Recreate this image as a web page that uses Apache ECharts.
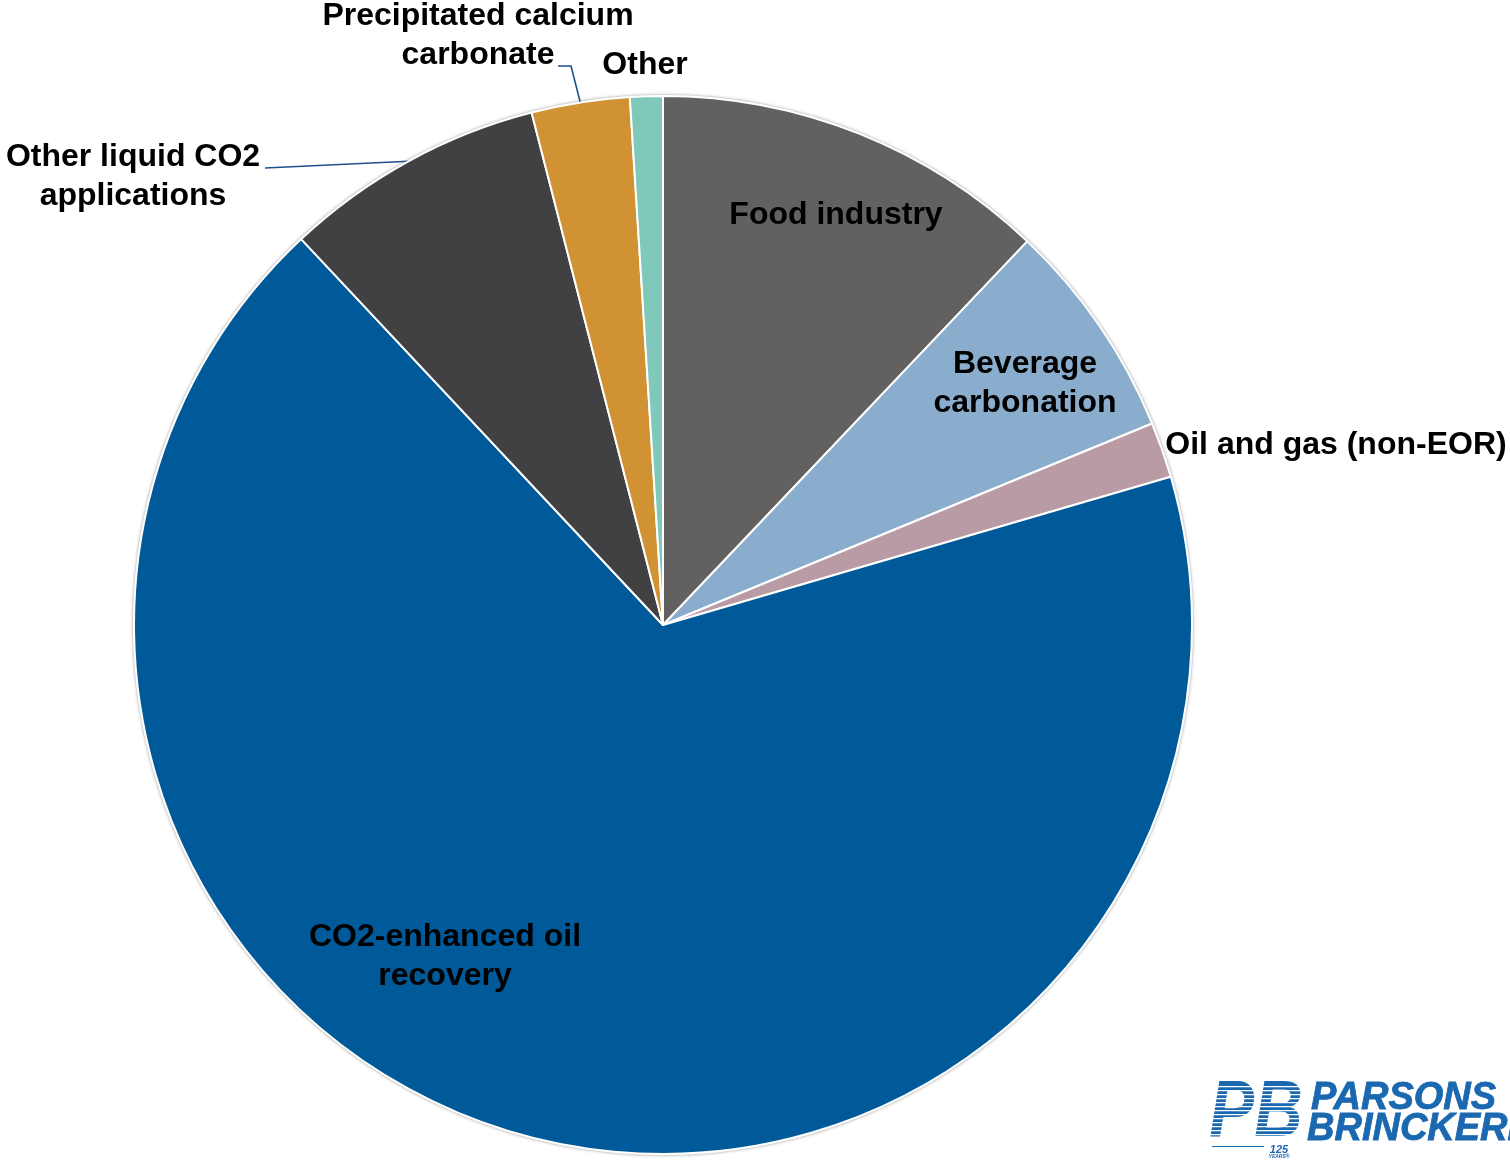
<!DOCTYPE html>
<html>
<head>
<meta charset="utf-8">
<title>CO2 demand by application</title>
<script src="https://cdn.jsdelivr.net/npm/echarts@6/dist/echarts.min.js"></script>
<style>
  html, body { margin: 0; padding: 0; background: #ffffff; }
  #chart { width: 1510px; height: 1160px; }
</style>
</head>
<body>
<div id="chart"></div>
<script>
// Share of CO2 demand by application (percent), clockwise from 12 o'clock
const categories = [
  'Food industry',
  'Beverage carbonation',
  'Oil and gas (non-EOR)',
  'CO2-enhanced oil recovery',
  'Other liquid CO2 applications',
  'Precipitated calcium carbonate',
  'Other'
];
const shares = [12.1, 6.7, 1.7, 67.6, 8.0, 3.0, 1.0];
const labelTexts = [
  'Food industry',
  'Beverage\ncarbonation',
  'Oil and gas (non-EOR)',
  'CO2-enhanced oil\nrecovery',
  'Other liquid CO2\napplications',
  'Precipitated calcium\ncarbonate',
  'Other'
];
const sliceColors = ['#636160', '#8aadcd', '#b89ba4', '#005a99', '#414042', '#d09233', '#80c8b9'];

// Where each label sits, and the bend points of its leader line (if any)
const labelPlaces = [
  { x: 836, y: 215 },
  { x: 1025, y: 384 },
  { x: 1336, y: 445 },
  { x: 445, y: 957 },
  { x: 133, y: 177, line: [[265, 168]] },
  { x: 478, y: 36, line: [[571, 66], [558, 66]] },
  { x: 645, y: 65 }
];

const FONT = '"Liberation Sans", Arial, Helvetica, sans-serif';
const LOGO_BLUE = '#1a68b0';

const chart = echarts.init(document.getElementById('chart'), null, { renderer: 'canvas' });

const seriesData = categories.map((name, i) => ({
  name: name,
  value: shares[i],
  itemStyle: { color: sliceColors[i] },
  label: { formatter: labelTexts[i] },
  labelLine: { show: !!labelPlaces[i].line }
}));

// PB logo: white stripes cut through the letters
const stripes = [];
for (let yy = 1086; yy < 1142; yy += 4) {
  stripes.push({
    type: 'rect',
    shape: { x: 1205, y: yy, width: 100, height: 1.3 },
    style: { fill: '#ffffff' },
    z: 12
  });
}

const option = {
  backgroundColor: '#ffffff',
  animation: false,
  graphic: [
    {
      type: 'circle',
      shape: { cx: 663, cy: 625, r: 531 },
      style: { fill: '#d9d9d9', shadowBlur: 3, shadowColor: 'rgba(0,0,0,0.2)' },
      z: 0
    },
    {
      type: 'text',
      x: 1256, y: 1114,
      scaleX: 0.84,
      style: {
        text: 'PB', font: 'italic bold 80px ' + FONT, fill: LOGO_BLUE,
        align: 'center', verticalAlign: 'middle'
      },
      z: 10
    },
    ...stripes,
    {
      type: 'rect',
      shape: { x: 1212, y: 1146, width: 52, height: 1 },
      style: { fill: LOGO_BLUE },
      z: 10
    },
    {
      type: 'text',
      x: 1279, y: 1150,
      style: { text: '125', font: 'italic bold 11px ' + FONT, fill: LOGO_BLUE, align: 'center', verticalAlign: 'middle' },
      z: 10
    },
    {
      type: 'text',
      x: 1279, y: 1157,
      style: { text: 'YEARS®', font: 'italic bold 5px ' + FONT, fill: LOGO_BLUE, align: 'center', verticalAlign: 'middle' },
      z: 10
    },
    {
      type: 'text',
      x: 1311, y: 1099,
      style: { text: 'PARSONS', font: 'italic bold 38px ' + FONT, fill: LOGO_BLUE, stroke: LOGO_BLUE, lineWidth: 0.8, verticalAlign: 'middle' },
      z: 10
    },
    {
      type: 'text',
      x: 1307, y: 1130,
      style: { text: 'BRINCKERHOFF', font: 'italic bold 38px ' + FONT, fill: LOGO_BLUE, stroke: LOGO_BLUE, lineWidth: 0.8, verticalAlign: 'middle' },
      z: 10
    }
  ],
  series: [
    {
      type: 'pie',
      center: [663, 625],
      radius: 529,
      startAngle: 90,
      clockwise: true,
      avoidLabelOverlap: false,
      silent: true,
      itemStyle: { borderColor: '#ffffff', borderWidth: 2 },
      label: {
        show: true,
        position: 'outside',
        color: '#000000',
        fontFamily: FONT,
        fontWeight: 'bold',
        fontSize: 32,
        lineHeight: 39,
        align: 'center'
      },
      labelLine: {
        show: true,
        lineStyle: { color: '#1f4f8f', width: 1.6 }
      },
      labelLayout: function (params) {
        const place = labelPlaces[params.dataIndex];
        const out = { x: place.x, y: place.y, align: 'center', verticalAlign: 'middle', hideOverlap: false };
        if (place.line && params.labelLinePoints) {
          out.labelLinePoints = [params.labelLinePoints[0]].concat(place.line);
        }
        return out;
      },
      data: seriesData
    }
  ]
};

chart.setOption(option);
</script>
</body>
</html>
